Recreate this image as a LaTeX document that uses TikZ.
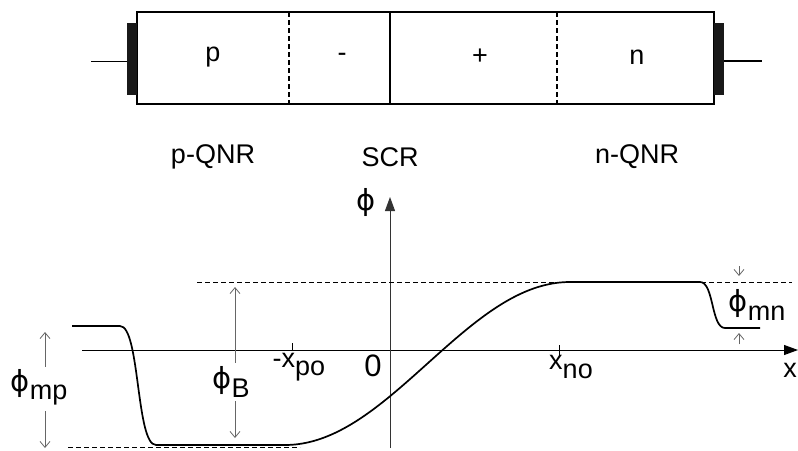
\documentclass[tikz,border=0pt]{standalone}
\usepackage{fontspec}
\setmainfont{Liberation Sans}
\newfontfamily\phifont{DejaVu Sans}
\usetikzlibrary{arrows.meta,positioning}

\newcommand{\lowsub}[1]{\raisebox{-0.3em}{#1}}
\newcommand{\phisym}{{\phifont\fontsize{29}{30}\selectfont ϕ}}

\begin{document}
\begin{tikzpicture}[x=1pt,y=-1pt,
    lbl/.style={font=\fontsize{27}{30}\selectfont,inner sep=0pt},
    thinarrow/.style={-{Straight Barb[length=6pt,width=10pt]},black!60,line width=0.8pt},
    guide/.style={dash pattern=on 5pt off 3pt,line width=0.8pt},
    split/.style={dash pattern=on 5pt off 3pt,line width=1.5pt},
    curve/.style={line width=1.7pt,line join=round}]
  \useasboundingbox (0,0) rectangle (798,450);
  % device
  \draw[line width=1.8pt] (137,12) rectangle (714,104);
  \draw[split] (289,12) -- (289,104);
  \draw[line width=1.5pt] (390,12) -- (390,104);
  \draw[split] (557,12) -- (557,104);
  \fill[black!90] (127,23) rectangle (137,95);
  \fill[black!90] (714,23) rectangle (724,95);
  \coordinate (leadL) at (91,61);
  \coordinate (leadR) at (762,61);
  \draw[line width=0.8pt] (leadL) -- (127,61);
  \draw[line width=1.4pt] (724,61) -- (leadR);
  \node[lbl] (p) at (213,57) {p};
  \node[lbl] (minus) at (342,57) {-};
  \node[lbl] (plus) at (480,57) {+};
  \node[lbl] (n) at (637,57) {n};
  \node[lbl] (pqnr) at (213,157) {p-QNR};
  \node[lbl] (scr) at (390,157) {SCR};
  \node[lbl] (nqnr) at (637,157) {n-QNR};
  % axes
  \coordinate (origin) at (390,350);
  \coordinate (xend) at (798,350);
  \coordinate (ybot) at (390,448);
  \coordinate (yend) at (390,197);
  \draw[-{Triangle[length=14pt,width=10pt]},line width=0.9pt] (82,350) -- (xend);
  \draw[-{Triangle[length=14pt,width=10pt]},line width=0.9pt,black!80] (ybot) -- (yend);
  \draw[line width=0.8pt] (292,343) -- (292,350);
  \draw[line width=0.8pt] (559,345) -- (559,356);
  \node[lbl] (phiax) at (366,202) {\phisym};
  \node[lbl,anchor=east] (xlbl) at (797,370) {x};
  \node[lbl] (xpo) at (299,367) {-x\lowsub{po}};
  \node[lbl,font=\fontsize{31}{32}\rmfamily] (zero) at (373,366) {0};
  \node[lbl] (xno) at (571,367) {x\lowsub{no}};
  % levels
  \coordinate (top) at (197,282);
  \coordinate (low) at (68,447);
  \draw[guide] (top) -- (792,282);
  \draw[guide] (low) -- (300,447);
  % potential
  \draw[curve] (72,326) -- (120,326) .. controls (140,326) and (136,445) .. (156,445)
    -- (285,445)
    -- plot[domain=285:570,samples=80] (\x,{445-163*(1-cos((\x-285)/285*180))/2})
    -- (700,282) .. controls (714,282) and (711,328) .. (725,328) -- (760,328);
  % heights
  \node[lbl] (phimp) at (39,387) {\phisym\lowsub{mp}};
  \node[lbl] (phiB) at (231,382) {\phisym\lowsub{B}};
  \node[lbl] (phimn) at (757,305) {\phisym\lowsub{mn}};
  \coordinate (mpcol) at (45,0);
  \coordinate (bcol) at (235,0);
  \coordinate (mncol) at (739,0);
  \draw[thinarrow] (mpcol |- phimp.north) ++(0,-2) -- (45,332);
  \draw[thinarrow] (mpcol |- phimp.south) ++(0,6) -- (45,448);
  \draw[thinarrow] (bcol |- phiB.north) ++(0,-4) -- (235,287);
  \draw[thinarrow] (bcol |- phiB.south) ++(0,4) -- (235,438);
  \coordinate (mnstart) at (739,266);
  \draw[thinarrow] (mnstart) -- (739,276);
  \draw[thinarrow] (mncol |- phimn.south) ++(0,24) -- (739,333);
\end{tikzpicture}
\end{document}
